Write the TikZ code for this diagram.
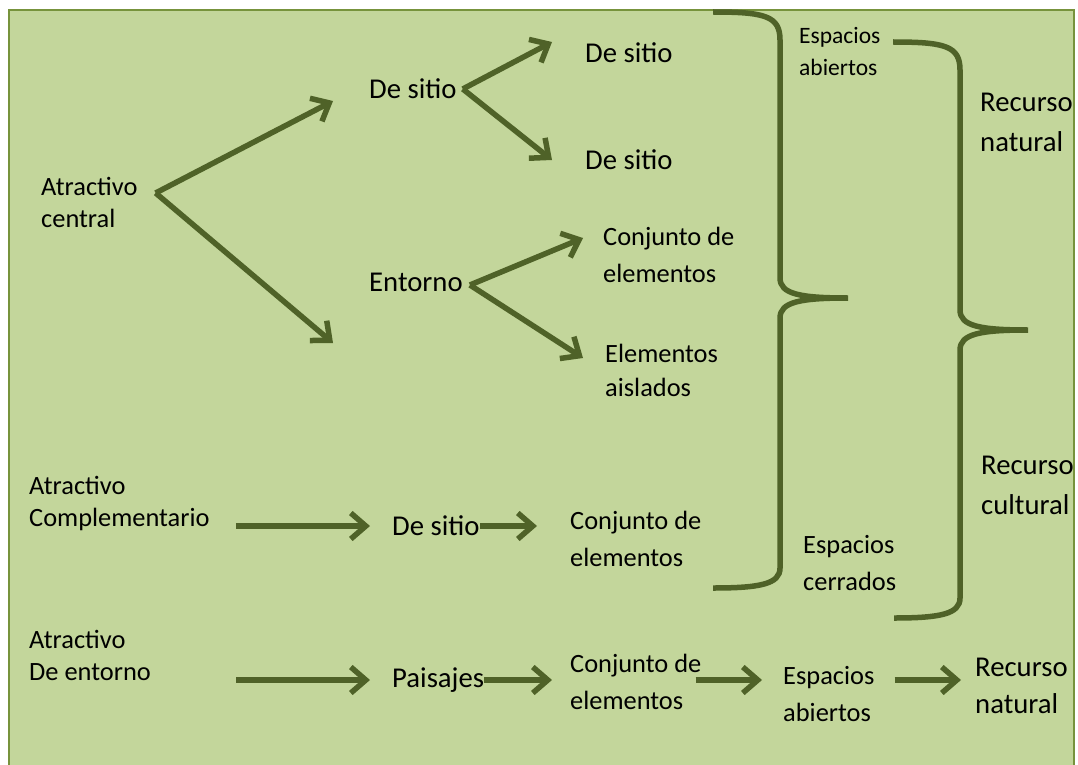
\documentclass[tikz,border=0pt]{standalone}
\usepackage{fontspec}
\setmainfont{Carlito}
\usepackage{tikz}
\usetikzlibrary{arrows.meta}
\definecolor{boxgreen}{HTML}{C3D69B}
\definecolor{edgegreen}{HTML}{77933C}
\definecolor{darkolive}{HTML}{4F6228}

\begin{document}
\begin{tikzpicture}[x = 1pt, y = -1pt]
\tikzstyle{mytext} = [anchor = west, inner sep = 0 pt, align = left, font = \fontsize{26.4}{37}\selectfont]
\tikzstyle{mybig} = [mytext, font = \fontsize{28.7}{40}\selectfont]
\tikzstyle{mysmall} = [mytext, font = \fontsize{23.5}{32}\selectfont]
\tikzstyle{mytight} = [mytext, font = \fontsize{26.4}{32}\selectfont]
\tikzset{myarrow/.style = {draw = darkolive, line width = 5.5 pt, -{Straight Barb[length = 15pt, width = 26pt]}}, mybrace/.style = {draw = darkolive, line width = 5.5 pt}}

\clip (0,0) rectangle (1078,765);
\fill[white] (0,0) rectangle (1078,765);
\draw[edgegreen, fill = boxgreen, line width = 1.5 pt] (9,10) rectangle (1074,790);

\node[mytight] (ac) at (41,202.5) {Atractivo\\central};
\node[mybig] (ds1) at (369,89) {De sitio};
\node[mybig] (ent) at (369,282) {Entorno};
\node[mybig] (ds2) at (585,53) {De sitio};
\node[mybig] (ds3) at (585,160) {De sitio};
\node[mytext] (cj1) at (603,254.5) {Conjunto de\\elementos};
\node[mytext, font = \fontsize{26.4}{34}\selectfont] (ea) at (605,370) {Elementos\\aislados};
\node[mysmall] (ab1) at (799,52) {Espacios\\abiertos};
\node[mybig] (rn1) at (980,122) {Recurso\\natural};
\node[mybig] (rc) at (981,485) {Recurso\\cultural};
\node[mytext] (ec) at (803,563) {Espacios\\cerrados};
\node[mytight] (acomp) at (29,503) {Atractivo\\Complementario};
\node[mybig] (ds4) at (392,526) {De sitio};
\node[mytext] (cj2) at (570,539) {Conjunto de\\elementos};
\node[mytight] (aent) at (29,655) {Atractivo\\De entorno};
\node[mybig] (pai) at (392,680) {Paisajes};
\node[mytext] (cj3) at (570,682) {Conjunto de\\elementos};
\node[mytext] (ab2) at (783,694) {Espacios\\abiertos};
\node[mybig, font = \fontsize{28.7}{37}\selectfont] (rn2) at (975,686) {Recurso\\natural};

\draw[myarrow] ([shift={(18,-9.5)}]ac.east) -- ([shift={(-36,12)}]ds1.west);
\draw[myarrow] ([shift={(18,-9.5)}]ac.east) -- ([shift={(-36,61)}]ent.west);
\draw[myarrow] ([xshift = 6pt]ds1.east) -- ([shift={(-33,-11)}]ds2.west);
\draw[myarrow] ([xshift = 6pt]ds1.east) -- ([xshift = -33pt]ds3.west);
\draw[myarrow] ([shift={(7,3)}]ent.east) -- ([shift={(-20,-16.5)}]cj1.west);
\draw[myarrow] ([shift={(7,3)}]ent.east) -- ([shift={(-22,-12)}]ea.west);
\draw[myarrow, shorten <= 26pt, shorten >= 22pt] (acomp.east |- ds4.west) -- (ds4.west);
\draw[myarrow, shorten >= 33pt] (ds4.east) -- (ds4.east -| cj2.west);
\draw[myarrow, shorten <= 85pt, shorten >= 22pt] (aent.east |- pai.west) -- (pai.west);
\draw[myarrow, shorten >= 18pt] (pai.east) -- (pai.east -| cj3.west);
\draw[myarrow, shorten <= -6pt, shorten >= 21pt] (cj3.east |- pai.east) -- (pai.east -| ab2.west);
\draw[myarrow, shorten <= 20pt, shorten >= 14pt] (ab2.east |- pai.east) -- (pai.east -| rn2.west);

\draw[mybrace] (713,12) .. controls (765,12) and (780,16) .. (780,40) -- (780,278) .. controls (780,294) and (800,298) .. (848,298) .. controls (800,298) and (780,302) .. (780,318) -- (780,568) .. controls (780,584) and (760,588) .. (713,588);
\draw[mybrace] (893,42) .. controls (945,42) and (960,46) .. (960,70) -- (960,310) .. controls (960,326) and (980,330) .. (1028,330) .. controls (980,330) and (960,334) .. (960,350) -- (960,598) .. controls (960,614) and (940,618) .. (894,618);
\end{tikzpicture}
\end{document}
